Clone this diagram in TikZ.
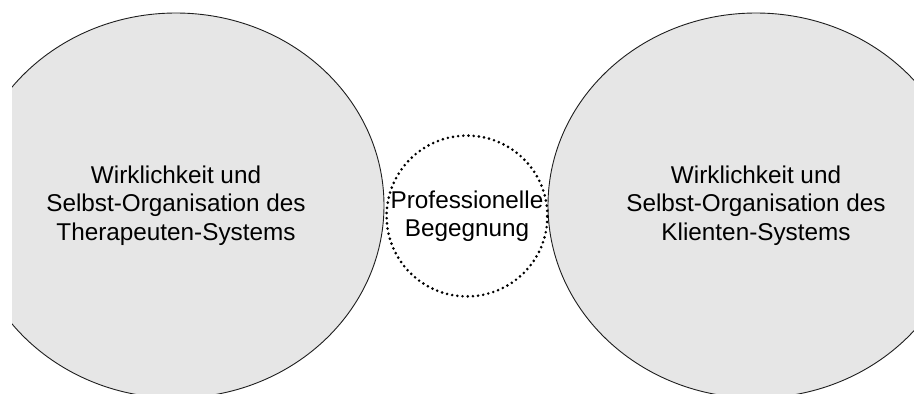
\documentclass[tikz,border=0pt]{standalone}
\usepackage{fontspec}
\setmainfont{Liberation Sans}
\usetikzlibrary{shapes.geometric}
\definecolor{spherefill}{RGB}{230,230,230}
\definecolor{outline}{RGB}{30,30,30}
\tikzset{
  labeltext/.style={align=center, font=\fontsize{24.3}{28.5}\selectfont},
  sphere/.style={ellipse, draw=outline, line width=0.9pt, fill=spherefill,
    minimum width=416pt, minimum height=385pt, inner sep=0pt, labeltext},
  meeting/.style={circle, draw=black, fill=white, line width=2.9pt,
    dash pattern=on 0pt off 5.2pt, line cap=round,
    minimum size=160pt, inner sep=0pt, labeltext}
}
\begin{document}
\begin{tikzpicture}[x=1pt,y=-1pt]
  \useasboundingbox (0,0) rectangle (914,394);
  \begin{scope}
    \clip (12,0) rectangle (914,394);
    % the therapist's sphere
    \node[sphere] (therapist) at (176,205.5)
      {Wirklichkeit und\\Selbst-Organisation des\\Therapeuten-Systems};
    % the client's sphere
    \node[sphere] (client) at (756,205.5)
      {Wirklichkeit und\\Selbst-Organisation des\\Klienten-Systems};
  \end{scope}
  % the meeting between both
  \node[meeting] (meeting) at (467,216) {Professionelle\\Begegnung};
\end{tikzpicture}
\end{document}
